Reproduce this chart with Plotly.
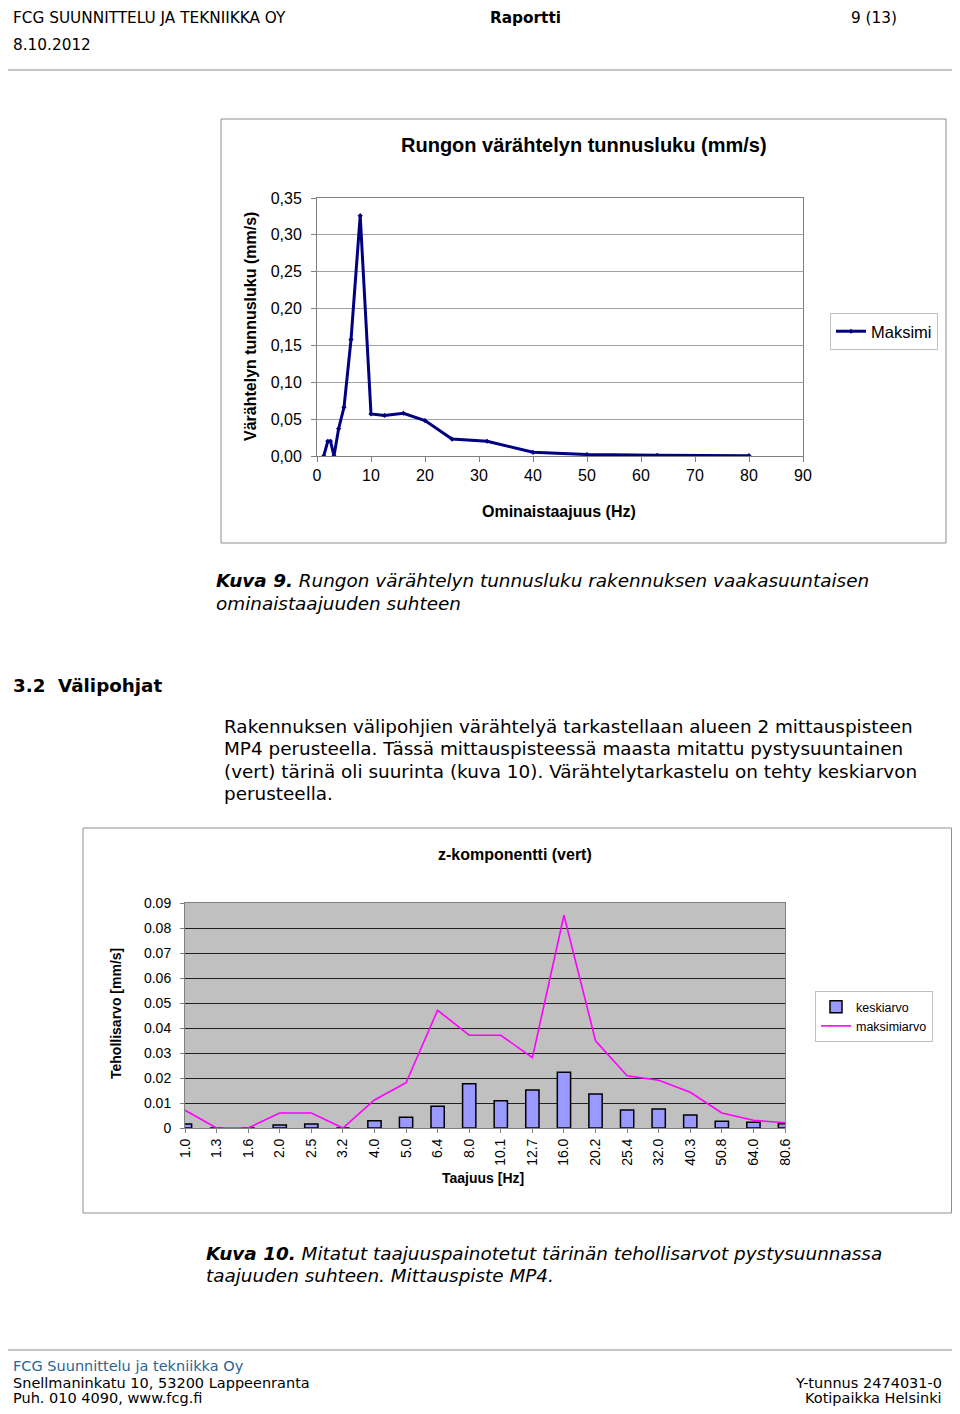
import plotly.graph_objects as go

# --- Kuva 9: rungon värähtelyn tunnusluku ---
taajuus_hz = [1.25, 2.0, 2.5, 3.15, 4.0, 5.0, 6.3, 8.0, 10.0, 12.5, 16.0, 20.0,
              25.0, 31.5, 40.0, 50.0, 63.0, 80.0]
maksimi = [0.0, 0.020, 0.020, 0.0, 0.037, 0.066, 0.158, 0.326, 0.057, 0.055, 0.058,
           0.048, 0.023, 0.020, 0.005, 0.002, 0.001, 0.0005]
y1_ticks = [0, 0.05, 0.10, 0.15, 0.20, 0.25, 0.30, 0.35]
y1_labels = ["0,00", "0,05", "0,10", "0,15", "0,20", "0,25", "0,30", "0,35"]

# --- Kuva 10: z-komponentti (vert) ---
kaistat = ["1.0", "1.3", "1.6", "2.0", "2.5", "3.2", "4.0", "5.0", "6.4", "8.0", "10.1",
           "12.7", "16.0", "20.2", "25.4", "32.0", "40.3", "50.8", "64.0", "80.6"]
keskiarvo = [0.0016, 0.0, 0.0, 0.0012, 0.0016, 0.0, 0.0029, 0.0043, 0.0087, 0.0177, 0.0109,
             0.0152, 0.0223, 0.0136, 0.0072, 0.0076, 0.0052, 0.0027, 0.0023, 0.0017]
maksimiarvo = [0.0071, 0.0, 0.0, 0.0060, 0.0060, 0.0, 0.0112, 0.0181, 0.0471, 0.0371, 0.0371,
               0.0281, 0.0851, 0.0349, 0.0209, 0.0191, 0.0143, 0.0060, 0.0031, 0.0021]
y2_ticks = [0, 0.01, 0.02, 0.03, 0.04, 0.05, 0.06, 0.07, 0.08, 0.09]
y2_labels = ["0", "0.01", "0.02", "0.03", "0.04", "0.05", "0.06", "0.07", "0.08", "0.09"]

# page is 960x1414; the html body adds an 8px margin, so the figure is 16px smaller
PAGE_W, PAGE_H, M = 960, 1414, 8
W, H = PAGE_W - 2 * M, PAGE_H - 2 * M


def px(x):
    return (x - M) / W


def py(y):
    return 1 - (y - M) / H


ARIAL = "Liberation Sans"
DOC = "DejaVu Sans"

fig = go.Figure()

fig.add_trace(go.Scatter(
    x=taajuus_hz, y=maksimi, mode="lines+markers", name="Maksimi",
    line=dict(color="#000080", width=3),
    marker=dict(symbol="diamond", size=4, color="#000080"),
    xaxis="x", yaxis="y", legend="legend"
))

fig.add_trace(go.Bar(
    x=kaistat, y=keskiarvo, name="keskiarvo", width=0.42,
    marker=dict(color="#9999FF", line=dict(color="black", width=1.5)),
    xaxis="x2", yaxis="y2", legend="legend2"
))
fig.add_trace(go.Scatter(
    x=kaistat, y=maksimiarvo, mode="lines", name="maksimiarvo",
    line=dict(color="#FF00FF", width=1.6),
    xaxis="x2", yaxis="y2", legend="legend2"
))

fig.update_layout(
    width=W, height=H,
    margin=dict(l=0, r=0, t=0, b=0, autoexpand=False),
    paper_bgcolor="white", plot_bgcolor="white",
    showlegend=True,
    xaxis=dict(
        domain=[px(317), px(803)], anchor="y", range=[0, 90], dtick=10, automargin=False,
        showgrid=False, zeroline=False, showline=True, linecolor="#808080", mirror=True,
        ticks="outside", ticklen=5, tickcolor="#808080",
        tickfont=dict(family=ARIAL, size=16, color="black"),
    ),
    yaxis=dict(
        domain=[py(456), py(198)], anchor="x", range=[0, 0.35], automargin=False,
        tickvals=y1_ticks, ticktext=y1_labels, ticklabelstandoff=6,
        showgrid=True, gridcolor="#a0a0a0", gridwidth=1, zeroline=False,
        showline=True, linecolor="#808080", mirror=True,
        ticks="outside", ticklen=5, tickcolor="#808080",
        tickfont=dict(family=ARIAL, size=16, color="black"),
    ),
    xaxis2=dict(
        domain=[px(185), px(785)], anchor="y2", type="category", range=[0, 19],
        automargin=False,
        showgrid=False, zeroline=False, showline=True, linecolor="#808080", mirror=True,
        ticks="outside", ticklen=4, tickcolor="#808080", tickangle=-90,
        tickfont=dict(family=ARIAL, size=14, color="black"),
    ),
    yaxis2=dict(
        domain=[py(1128), py(903)], anchor="x2", range=[0, 0.09], automargin=False,
        tickvals=y2_ticks, ticktext=y2_labels, ticklabelstandoff=6,
        showgrid=True, gridcolor="#202020", gridwidth=1, zeroline=False,
        showline=True, linecolor="#808080", mirror=True,
        ticks="outside", ticklen=4, tickcolor="#808080",
        tickfont=dict(family=ARIAL, size=14, color="black"),
    ),
    legend=dict(
        x=px(830), y=py(313), xanchor="left", yanchor="top",
        bordercolor="#c0c0c0", borderwidth=1, bgcolor="white",
        font=dict(family=ARIAL, size=16.5, color="black"),
        itemwidth=30, tracegroupgap=0,
    ),
    legend2=dict(
        x=px(815), y=py(991), xanchor="left", yanchor="top",
        bordercolor="#c0c0c0", borderwidth=1, bgcolor="white",
        font=dict(family=ARIAL, size=12.5, color="black"),
        itemwidth=30, tracegroupgap=0,
    ),
)

# plot-area background for chart 2
fig.add_shape(type="rect", xref="paper", yref="paper", layer="below",
              x0=px(185), x1=px(785), y0=py(1128), y1=py(903),
              fillcolor="#C0C0C0", line=dict(width=0))

# frames and rules
shapes = [
    (221, 119, 946, 543, "#909090"),
    (83, 828, 951.5, 1213, "#909090"),
]
for x0, y0, x1, y1, c in shapes:
    fig.add_shape(type="rect", xref="paper", yref="paper",
                  x0=px(x0), x1=px(x1), y0=py(y1), y1=py(y0),
                  line=dict(color=c, width=1))
for yy in (70, 1350):
    fig.add_shape(type="line", xref="paper", yref="paper",
                  x0=0, x1=1, y0=py(yy), y1=py(yy),
                  line=dict(color="#b0b0b0", width=1.5))


def txt(x, y, s, size, family=DOC, anchor="left", color="black", angle=0, va="middle"):
    fig.add_annotation(x=px(x), y=py(y), xref="paper", yref="paper", text=s,
                       showarrow=False, xanchor=anchor, yanchor=va, textangle=angle,
                       borderpad=0, font=dict(family=family, size=size, color=color))


# header (sits at the very top of the figure area)
txt(12, 8.5, "FCG SUUNNITTELU JA TEKNIIKKA OY", 15.3, va="top")
txt(525, 8.5, "<b>Raportti</b>", 15.3, anchor="center", va="top")
txt(898, 8.5, "9 (13)", 15.3, anchor="right", va="top")
txt(12, 45, "8.10.2012", 15.3)

# chart 1 texts
txt(584, 145, "<b>Rungon värähtelyn tunnusluku (mm/s)</b>", 20, ARIAL, "center")
txt(251, 326, "<b>Värähtelyn tunnusluku (mm/s)</b>", 16, ARIAL, "center", angle=-90)
txt(559, 512, "<b>Ominaistaajuus (Hz)</b>", 16, ARIAL, "center")

# caption 9
txt(215, 581, "<b><i>Kuva 9.</i></b><i> Rungon värähtelyn tunnusluku rakennuksen vaakasuuntaisen</i>", 18.4)
txt(215, 603, "<i>ominaistaajuuden suhteen</i>", 18.4)

# section
txt(12, 685, "<b>3.2  Välipohjat</b>", 18.3)
para = [
    "Rakennuksen välipohjien värähtelyä tarkastellaan alueen 2 mittauspisteen",
    "MP4 perusteella. Tässä mittauspisteessä maasta mitattu pystysuuntainen",
    "(vert) tärinä oli suurinta (kuva 10). Värähtelytarkastelu on tehty keskiarvon",
    "perusteella.",
]
for i, line in enumerate(para):
    txt(223, 726 + i * 22.5, line, 18.4)

# chart 2 texts
txt(515, 854, "<b>z-komponentti (vert)</b>", 16, ARIAL, "center")
txt(116, 1014, "<b>Tehollisarvo [mm/s]</b>", 14, ARIAL, "center", angle=-90)
txt(483, 1178, "<b>Taajuus [Hz]</b>", 14, ARIAL, "center")

# caption 10
txt(205, 1253, "<b><i>Kuva 10.</i></b><i> Mitatut taajuuspainotetut tärinän tehollisarvot pystysuunnassa</i>", 18.4)
txt(205, 1275, "<i>taajuuden suhteen. Mittauspiste MP4.</i>", 18.4)

# footer
txt(12, 1366, "FCG Suunnittelu ja tekniikka Oy", 14.5, color="#2a6496")
txt(12, 1383, "Snellmaninkatu 10, 53200 Lappeenranta", 14.5)
txt(12, 1398, "Puh. 010 4090, www.fcg.fi", 14.5)
txt(943, 1383, "Y-tunnus 2474031-0", 14.5, anchor="right")
txt(943, 1398, "Kotipaikka Helsinki", 14.5, anchor="right")

fig.write_html("out.html")
